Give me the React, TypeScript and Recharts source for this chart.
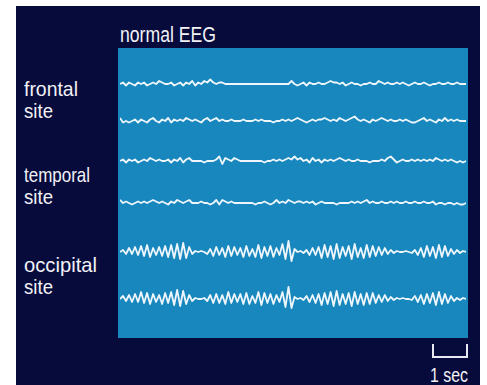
import { LineChart, Line, XAxis, YAxis } from 'recharts';

// EEG traces, deflection per sample (positive = up)
const frontal1 = [
  0, 1, -1, 1, 0, -1, 1, 0, 1, -1,
  0, 1, 0, 2, 1, 0, 0, 1, -1, 0,
  1, -1, 1, 0, 2, -1, 1, 0, 2, 1,
  3, 1, 0, 1, 1, 0, 0, 0, 0, 0,
  0, 0, 0, 0, 0, 0, 0, 0, 0, 0,
  0, 0, 0, 0, 0, 0, 0, 2, 0, -1,
  0, 1, -1, 1, 0, 0, 1, 0, 0, 1,
  2, 1, 1, 0, 1, -1, 0, 1, 0, 0,
  -1, 0, 0, 1, 0, 0, 2, 1, 0, 1,
  0, 0, 1, 0, 1, 0, -1, 0, 1, 0,
  0, 1, 0, -1, 0, 0, 1, 0, 0, 1,
  0, 0, 1, 0, 0, 0,
];
const frontal2 = [
  2, -1, 0, -1, 0, 1, -1, 1, 0, -1,
  1, 2, 0, -1, 1, 0, 2, -1, 1, 0,
  1, 0, 2, 1, 0, 1, 0, -1, 1, 2,
  0, 1, 2, 0, 1, 0, 0, 1, 0, 0,
  0, 1, 0, 0, 0, 1, 0, 1, 0, 0,
  0, -1, 0, 0, 1, 0, 1, 0, 1, 2,
  1, 0, -1, 0, 1, 0, 1, 1, 2, 1,
  0, 1, 0, 2, 1, 0, 1, 2, 3, 1,
  0, 1, 0, -1, 1, 0, 1, 2, 1, 0,
  1, 0, 0, 1, 0, 1, 0, -1, -1, 0,
  1, 2, 0, 1, 0, -1, 1, 0, 2, 0,
  1, 0, 1, 0, 0, 0,
];
const temporal1 = [
  0, 1, -1, 1, 0, 1, -1, 0, 1, 0,
  2, 1, 0, 1, 0, 0, 1, -1, 1, 0,
  2, -1, 1, 2, 0, 0, 0, 0, -1, 0,
  0, 0, 1, 3, -2, 2, 1, 0, 2, 1,
  0, 0, 0, 0, 0, 0, 0, 0, -1, 0,
  0, 1, 0, 1, 0, 1, 2, 1, 3, 1,
  2, 0, 1, -1, 2, 0, 1, -1, 1, 0,
  1, 0, 1, 2, 1, 0, 1, 0, 0, 1,
  0, 0, 0, -1, 0, 0, 0, 1, 0, 2,
  3, 1, -1, 0, 1, 0, 0, 1, 0, 1,
  0, 1, 0, 1, 0, 2, 1, 0, 1, 0,
  1, 0, -1, 0, -1, 0,
];
const temporal2 = [
  2, 0, 1, 0, -1, 0, 1, 0, 1, 0,
  1, 2, 1, 0, 1, 0, -1, 1, 0, 2,
  1, 0, 1, 2, 0, 0, 0, 1, 0, 0,
  -1, 0, 2, -1, 2, 1, 0, 1, 0, 0,
  0, 0, 0, 0, 0, -1, 0, 0, 1, 0,
  -1, 0, 2, 0, 1, 0, 2, 1, 0, 1,
  1, 0, 1, 0, 1, -1, 0, 1, 0, 0,
  0, 0, -1, 0, 0, 0, 0, 1, 0, 1,
  0, 1, 2, 0, 1, 0, 0, 1, 0, 0,
  1, 0, 1, 0, 0, 1, 0, 0, 1, 0,
  0, 1, 0, 0, 1, -1, 0, 0, -1, 0,
  0, -1, 0, -1, -1, 0,
];
const occipital1 = [
  0, 2, -2, 4, -2, 5, -3, 6, -4, 7,
  -5, 4, -3, 5, -4, 6, -5, 7, -6, 8,
  -7, 9, -6, 5, -2, 1, 0, 1, 0, -2,
  3, -4, 5, -3, 4, -5, 6, -4, 5, -3,
  4, -5, 6, -4, 3, -5, 7, -6, 5, -4,
  6, -5, 4, -3, 8, -7, 11, -9, 3, 0,
  1, -1, 2, -3, 4, -3, 5, -6, 7, -5,
  6, -7, 8, -6, 5, -4, 6, -7, 8, -5,
  4, -6, 7, -5, 6, -4, 5, -3, 4, -2,
  2, -1, 1, 0, 0, 1, 0, -1, 2, -3,
  4, -5, 6, -4, 5, -6, 7, -5, 6, -4,
  3, -2, 2, -1, 1, 0,
];
const occipital2 = [
  0, 3, -2, 4, -3, 5, -3, 7, -4, 6,
  -5, 5, -3, 4, -5, 6, -4, 7, -6, 9,
  -7, 8, -5, 4, -2, 1, 0, 0, 1, -2,
  4, -4, 5, -4, 4, -5, 7, -4, 5, -3,
  5, -5, 6, -5, 3, -4, 7, -6, 6, -4,
  5, -5, 4, -3, 7, -8, 12, -9, 2, 0,
  1, -1, 3, -3, 4, -4, 5, -6, 6, -5,
  7, -7, 8, -6, 5, -5, 6, -7, 7, -5,
  5, -6, 6, -5, 6, -4, 4, -3, 4, -2,
  2, -1, 1, 0, 1, 0, 0, -1, 3, -3,
  4, -5, 5, -4, 6, -6, 7, -5, 5, -4,
  3, -2, 1, -1, 1, 0,
];

const channelNames = [
  ['frontal', 'site'],
  ['temporal', 'site'],
  ['occipital', 'site'],
];
const nameWidths = [54, 66, 73];

const series = [
  { key: 'f1', values: frontal1, center: 84, gain: 1.5 },
  { key: 'f2', values: frontal2, center: 121, gain: 1.5 },
  { key: 't1', values: temporal1, center: 161, gain: 1.5 },
  { key: 't2', values: temporal2, center: 203, gain: 1.5 },
  { key: 'o1', values: occipital1, center: 252, gain: 1 },
  { key: 'o2', values: occipital2, center: 299, gain: 1 },
];

const PANEL_TOP = 48;
const PANEL_H = 290;

const data = frontal1.map((_, i) => {
  const row: Record<string, number | null> = { i };
  series.forEach((s) => {
    const v = s.values[i];
    row[s.key] = v == null ? null : -(s.center - PANEL_TOP) + v * s.gain;
  });
  return row;
});

const labelY = [96, 182, 272];
const FONT = '"Liberation Sans", Arial, sans-serif';
const TEXT = '#f2f2f6';

export default function App() {
  return (
    <div style={{ position: 'absolute', left: 0, top: 0, width: 487, height: 385, background: '#fff' }}>
      <div style={{ position: 'absolute', left: 16, top: 6, width: 464, height: 379, background: '#060b3c' }} />
      <div style={{ position: 'absolute', left: 118, top: PANEL_TOP, width: 350, height: PANEL_H, background: '#1787bd' }} />
      <div style={{ position: 'absolute', left: 120, top: PANEL_TOP }}>
        <LineChart width={346} height={PANEL_H} data={data} margin={{ top: 0, right: 0, bottom: 0, left: 0 }}>
          <XAxis dataKey="i" type="number" domain={[0, frontal1.length - 1]} hide />
          <YAxis type="number" domain={[-PANEL_H, 0]} allowDataOverflow hide />
          {series.map((s) => (
            <Line
              key={s.key}
              dataKey={s.key}
              type="linear"
              stroke="#eef6fb"
              strokeWidth={1.8}
              strokeLinejoin="round"
              dot={false}
              isAnimationActive={false}
            />
          ))}
        </LineChart>
      </div>
      <svg width={487} height={385} style={{ position: 'absolute', left: 0, top: 0, pointerEvents: 'none' }}>
        <text x={120} y={42} fill={TEXT} fontSize={22} fontFamily={FONT} textLength={96} lengthAdjust="spacingAndGlyphs">
          normal EEG
        </text>
        {channelNames.map((lines, k) => (
          <g key={k}>
            <text x={24} y={labelY[k]} fill={TEXT} fontSize={21} fontFamily={FONT} textLength={nameWidths[k]} lengthAdjust="spacingAndGlyphs">
              {lines[0]}
            </text>
            <text x={24} y={labelY[k] + 22} fill={TEXT} fontSize={21} fontFamily={FONT} textLength={29} lengthAdjust="spacingAndGlyphs">
              {lines[1]}
            </text>
          </g>
        ))}
        <path d="M433,344 V357 H467 V344" fill="none" stroke="#e8e8f0" strokeWidth={2} />
        <text x={430} y={382} fill={TEXT} fontSize={20} fontFamily={FONT} textLength={38} lengthAdjust="spacingAndGlyphs">
          1 sec
        </text>
      </svg>
    </div>
  );
}
